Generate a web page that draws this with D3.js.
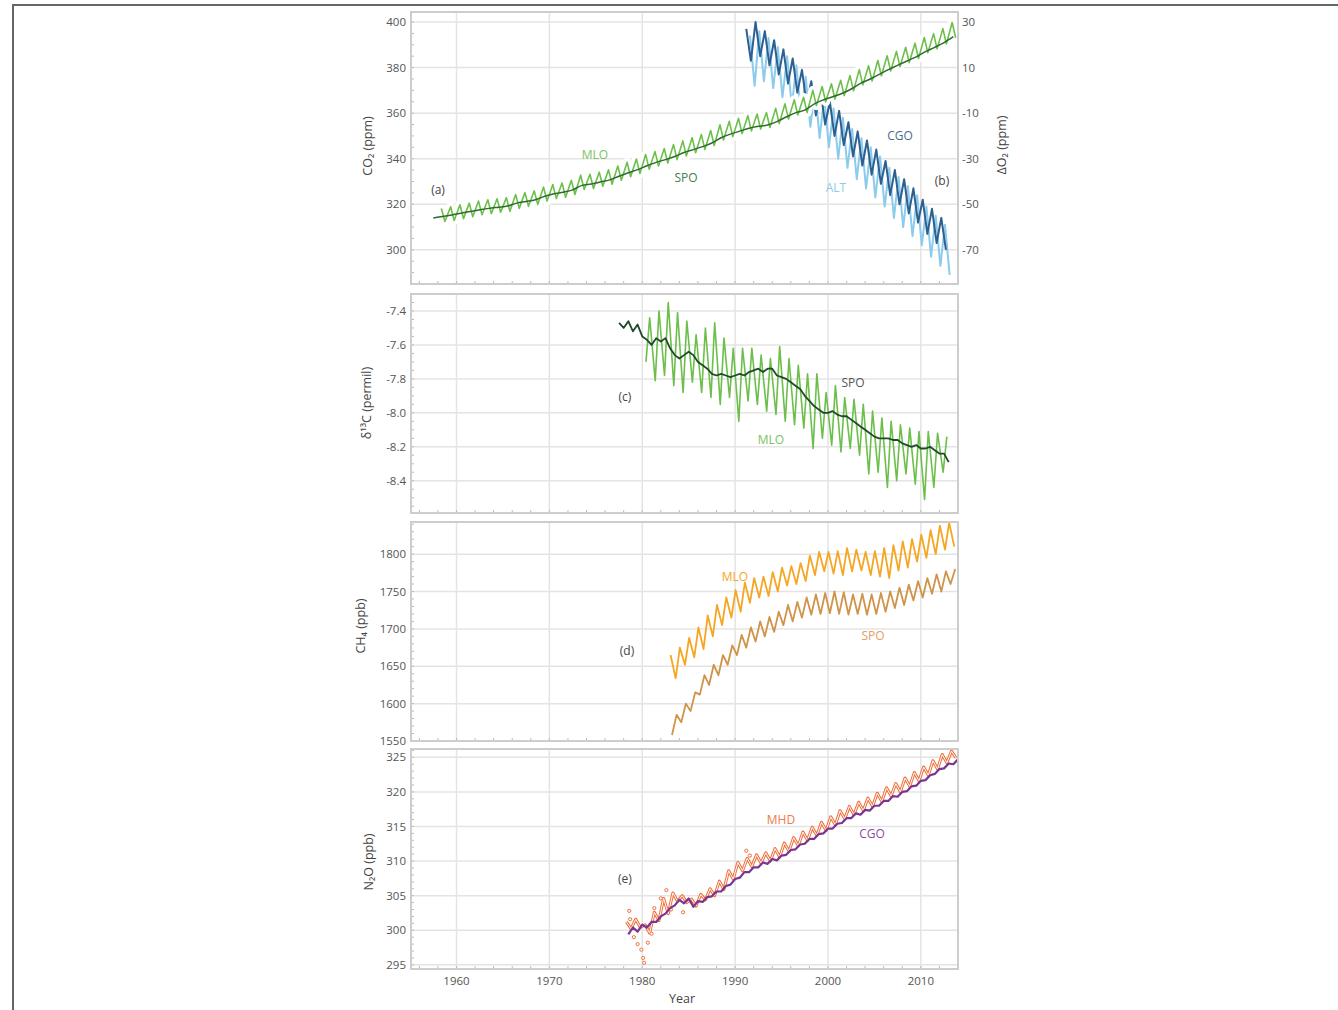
<!DOCTYPE html>
<html>
<head>
<meta charset="utf-8">
<script src="https://cdn.jsdelivr.net/npm/d3@7"></script>
<style>
body { margin: 0; background: #fff; }
text { font-family: "Open Sans", "Noto Sans", sans-serif; }
</style>
</head>
<body>
<svg id="chart" width="1338" height="1010"></svg>
<script>
/* four stacked panels: CO2 + O2, d13C, CH4, N2O at baseline stations */

// ---- data ----
var yearTicks = [1960, 1970, 1980, 1990, 2000, 2010];
var co2Ticks = [300, 320, 340, 360, 380, 400];
var o2Ticks = [-70, -50, -30, -10, 10, 30];
var d13cTicks = [-8.4, -8.2, -8.0, -7.8, -7.6, -7.4];
var ch4Ticks = [1550, 1600, 1650, 1700, 1750, 1800];
var n2oTicks = [295, 300, 305, 310, 315, 320, 325];

// CO2 Mauna Loa, 1958-2013, seasonal max (May) and min (Sep/Oct)
var mloCo2Hi = [318.2, 318.9, 319.8, 320.5, 321.4, 322.0, 322.4, 322.9, 324.3, 325.1, 325.9, 327.6, 328.7, 329.3, 330.5, 332.8,
  333.2, 334.1, 335.1, 336.8, 338.4, 339.9, 341.8, 343.2, 344.5, 346.2, 347.8, 349.2, 350.6, 352.4, 354.9, 356.4, 357.7,
  358.9, 359.6, 360.3, 362.1, 364.1, 365.9, 367.0, 370.0, 371.7, 372.9, 374.4, 376.5, 379.1, 380.8, 383.1, 385.2, 387.1,
  388.9, 390.7, 393.2, 394.9, 397.1, 399.8];
var mloCo2Lo = [312.4, 312.9, 313.7, 314.5, 315.4, 315.9, 316.5, 316.9, 318.2, 319.1, 319.9, 321.4, 322.5, 323.1, 324.3, 326.5,
  326.9, 327.9, 328.8, 330.5, 332.1, 333.5, 335.4, 336.8, 338.1, 339.6, 341.2, 342.6, 344.0, 345.8, 348.2, 349.7, 351.0,
  352.2, 353.0, 353.7, 355.4, 357.4, 359.2, 360.3, 363.3, 365.0, 366.2, 367.7, 369.8, 372.4, 374.1, 376.4, 378.5, 380.4,
  382.2, 384.0, 386.5, 388.2, 390.4, 393.1];
// CO2 South Pole, annual, 1957-2013
var spoCo2 = [314.0, 314.6, 315.3, 316.1, 316.8, 317.6, 318.2, 318.7, 319.2, 320.5, 321.2, 322.0, 323.5, 324.6, 325.3, 326.3,
  328.3, 328.9, 329.8, 330.7, 332.3, 333.8, 335.2, 336.9, 338.4, 339.6, 341.0, 342.7, 344.0, 345.3, 346.9, 349.2, 350.8,
  352.1, 353.4, 354.2, 354.8, 356.3, 358.3, 360.1, 361.3, 364.0, 365.8, 367.2, 368.6, 370.6, 373.1, 374.9, 377.0, 379.1,
  381.0, 382.9, 384.7, 387.0, 388.9, 391.0, 393.6];
// delta O2 (ppm, right axis) 1991-2012
var cgoO2Hi = [27, 30, 26, 22, 18, 14, 9, 4, 0, -5, -9, -14, -18, -22, -26, -31, -35, -39, -43, -48, -52, -56];
var cgoO2Lo = [13, 15, 11, 7, 3, -1, -6, -11, -15, -20, -24, -29, -33, -37, -41, -46, -50, -54, -58, -63, -67, -70];
var altO2Hi = [24, 26, 23, 19, 15, 11, 6, 1, -3, -8, -12, -17, -21, -25, -29, -34, -38, -42, -46, -51, -55, -59];
var altO2Lo = [2, 4, 1, -3, -7, -11, -16, -21, -25, -30, -34, -39, -43, -47, -51, -56, -60, -64, -68, -73, -77, -81];

// d13C South Pole, half-yearly from 1977.5
var spoD13c = [-7.47, -7.50, -7.46, -7.52, -7.48, -7.55, -7.57, -7.60, -7.56, -7.58, -7.56, -7.62, -7.66, -7.68, -7.66,
  -7.64, -7.66, -7.70, -7.72, -7.74, -7.77, -7.78, -7.77, -7.78, -7.79, -7.78, -7.77, -7.78, -7.76, -7.75, -7.74, -7.76,
  -7.74, -7.74, -7.78, -7.79, -7.80, -7.82, -7.84, -7.86, -7.90, -7.93, -7.96, -7.98, -8.00, -8.00, -7.99, -8.01, -8.02,
  -8.02, -8.04, -8.06, -8.08, -8.10, -8.12, -8.14, -8.15, -8.15, -8.15, -8.16, -8.16, -8.18, -8.19, -8.20, -8.19, -8.21,
  -8.21, -8.20, -8.22, -8.24, -8.24, -8.29];
// d13C Mauna Loa 1980-2012, seasonal max / min
var mloD13cHi = [-7.44, -7.40, -7.35, -7.41, -7.46, -7.54, -7.50, -7.47, -7.56, -7.62, -7.62, -7.62, -7.66, -7.68, -7.61,
  -7.68, -7.72, -7.77, -7.77, -7.88, -7.84, -7.91, -7.92, -7.95, -7.99, -8.03, -8.05, -8.07, -8.09, -8.11, -8.11, -8.12, -8.14];
var mloD13cLo = [-7.70, -7.81, -7.78, -7.84, -7.88, -7.82, -7.88, -7.91, -7.95, -7.91, -8.05, -7.93, -7.95, -7.99, -8.01,
  -8.05, -8.07, -8.09, -8.21, -8.15, -8.19, -8.23, -8.21, -8.25, -8.36, -8.35, -8.44, -8.40, -8.36, -8.42, -8.51, -8.44, -8.35];

// CH4 1983-2013
var mloCh4Hi = [1665, 1675, 1688, 1702, 1718, 1732, 1742, 1752, 1762, 1768, 1770, 1776, 1782, 1784, 1788, 1798, 1803, 1803,
  1804, 1808, 1806, 1803, 1804, 1808, 1812, 1817, 1820, 1826, 1832, 1838, 1842];
var mloCh4Lo = [1634, 1652, 1662, 1673, 1690, 1705, 1715, 1723, 1735, 1742, 1744, 1750, 1758, 1760, 1764, 1772, 1777, 1774,
  1772, 1777, 1778, 1772, 1770, 1768, 1778, 1782, 1790, 1795, 1800, 1806, 1810];
var spoCh4Hi = [1585, 1600, 1615, 1638, 1652, 1665, 1678, 1692, 1702, 1710, 1716, 1723, 1732, 1736, 1742, 1746, 1748, 1750,
  1749, 1746, 1747, 1746, 1748, 1750, 1755, 1759, 1764, 1768, 1773, 1777, 1780];
var spoCh4Lo = [1558, 1575, 1590, 1612, 1625, 1638, 1652, 1665, 1675, 1683, 1690, 1696, 1705, 1710, 1715, 1719, 1720, 1721,
  1720, 1719, 1720, 1719, 1720, 1723, 1728, 1732, 1738, 1742, 1747, 1750, 1760];

// N2O 1978-2013
var mhdN2oHi = [301.2, 301.6, 300.8, 302.6, 304.6, 305.4, 305.0, 304.5, 305.2, 306.0, 307.1, 308.6, 309.8, 310.4, 310.9,
  311.2, 311.8, 312.6, 313.4, 314.2, 314.9, 315.6, 316.4, 317.3, 317.9, 318.5, 319.1, 319.8, 320.6, 321.2, 322.0, 322.8,
  323.6, 324.5, 325.4, 325.9];
var mhdN2oLo = [300.2, 300.4, 299.6, 301.4, 302.4, 304.2, 304.0, 303.5, 304.4, 305.0, 305.9, 307.4, 308.6, 309.2, 309.7,
  310.0, 310.6, 311.4, 312.2, 313.0, 313.7, 314.4, 315.2, 316.1, 316.7, 317.3, 317.9, 318.6, 319.4, 320.0, 320.8, 321.6,
  322.4, 323.3, 324.2, 324.9];
var cgoN2oHi = [300.4, 300.8, 301.2, 302.0, 303.2, 304.4, 304.6, 304.2, 304.8, 305.6, 306.4, 307.4, 308.4, 309.1, 309.8,
  310.3, 310.8, 311.6, 312.4, 313.2, 313.9, 314.7, 315.4, 316.2, 316.9, 317.4, 318.0, 318.7, 319.4, 320.0, 320.8, 321.6,
  322.4, 323.3, 324.1, 324.7];
var cgoN2oLo = [299.4, 299.8, 300.4, 301.2, 302.4, 303.6, 303.9, 303.4, 304.1, 304.9, 305.6, 306.6, 307.6, 308.4, 309.1,
  309.6, 310.1, 310.9, 311.7, 312.5, 313.2, 314.0, 314.7, 315.5, 316.2, 316.7, 317.3, 318.0, 318.7, 319.3, 320.1, 320.9,
  321.7, 322.6, 323.4, 324.0];
// scattered early flask values at MHD
var mhdEarly = [[1978.6, 302.8], [1978.7, 301.6], [1979.1, 299.0], [1979.5, 298.0], [1979.9, 297.2], [1980.1, 296.0],
  [1980.2, 295.3], [1980.6, 298.2], [1981.0, 299.5], [1981.3, 303.2], [1982.0, 304.6], [1982.6, 305.8], [1983.1, 303.0],
  [1984.4, 302.6], [1991.2, 311.5], [1991.6, 310.8]];

// ---- helpers ----
function zig(start, hi, hiPh, lo, loPh) {
    var pts = [];
    hi.forEach(function (v, i) { pts.push([start + i + hiPh, v]); });
    lo.forEach(function (v, i) { pts.push([start + i + loPh, v]); });
    pts.sort(function (a, b) { return a[0] - b[0]; });
    return pts;
}
function series(start, step, vals) {
    return vals.map(function (v, i) { return [start + i * step, v]; });
}

var svg = d3.select("#chart");
var x = d3.scaleLinear().domain([1955.1, 2014]).range([411, 958]);
var X0 = 411, X1 = 958;

// outer border
svg.append("path").attr("d", "M13,1010V5H1338").attr("fill", "none")
    .attr("stroke", "#666").attr("stroke-width", 2);

var fmtInt = function (d) { return String(d); };
var fmt1 = function (d) { return d.toFixed(1); };

function addPanel(p) {
    var y = d3.scaleLinear().domain(p.domain).range([p.bottom, p.top]);
    var g = svg.append("g");
    g.append("rect").attr("x", X0).attr("y", p.top).attr("width", X1 - X0).attr("height", p.bottom - p.top)
        .attr("fill", "#fff");
    g.selectAll(".vg").data(yearTicks).enter().append("line")
        .attr("x1", function (d) { return x(d); }).attr("x2", function (d) { return x(d); })
        .attr("y1", p.top).attr("y2", p.bottom)
        .attr("stroke", "#e4e4e4").attr("stroke-width", 1.5);
    g.selectAll(".hg").data(p.ticks).enter().append("line")
        .attr("x1", X0).attr("x2", X1)
        .attr("y1", function (d) { return y(d); }).attr("y2", function (d) { return y(d); })
        .attr("stroke", "#e4e4e4").attr("stroke-width", 1.5);
    // minor ticks
    var lo = Math.ceil(p.domain[0] / p.minor), hi = Math.floor(p.domain[1] / p.minor);
    var minors = d3.range(lo, hi + 1).map(function (k) { return k * p.minor; });
    g.selectAll(".ym").data(minors).enter().append("line")
        .attr("x1", X0).attr("x2", X0 + 3)
        .attr("y1", function (d) { return y(d); }).attr("y2", function (d) { return y(d); })
        .attr("stroke", "#bbb").attr("stroke-width", 1);
    g.selectAll(".xm").data(d3.range(1956, 2014, 2)).enter().append("line")
        .attr("x1", function (d) { return x(d); }).attr("x2", function (d) { return x(d); })
        .attr("y1", p.bottom).attr("y2", p.bottom - 3)
        .attr("stroke", "#bbb").attr("stroke-width", 1);
    g.selectAll(".yl").data(p.ticks).enter().append("text")
        .attr("x", 406).attr("y", function (d) { return y(d); })
        .attr("dy", "0.35em").attr("text-anchor", "end")
        .attr("font-size", 11.5).attr("fill", "#555")
        .text(p.fmt);
    g.append("text")
        .attr("transform", "translate(" + p.tx + "," + p.ty + ") rotate(-90)")
        .attr("text-anchor", "middle").attr("dy", "0.35em")
        .attr("font-size", 12.5).attr("fill", "#444")
        .text(p.title);
    svg.append("clipPath").attr("id", "clip-" + p.id).append("rect")
        .attr("x", X0).attr("y", p.top).attr("width", X1 - X0).attr("height", p.bottom - p.top);
    var data = svg.append("g").attr("clip-path", "url(#clip-" + p.id + ")");
    return { y: y, g: data, p: p };
}

function frame(p) {
    svg.append("rect").attr("x", X0).attr("y", p.top).attr("width", X1 - X0).attr("height", p.bottom - p.top)
        .attr("fill", "none").attr("stroke", "#cdcdcd").attr("stroke-width", 2);
}

function draw(panel, pts, color, width, yScale, curve) {
    var ys = yScale || panel.y;
    var line = d3.line()
        .x(function (d) { return x(d[0]); })
        .y(function (d) { return ys(d[1]); })
        .curve(curve || d3.curveLinear);
    return panel.g.append("path").datum(pts).attr("d", line)
        .attr("fill", "none").attr("stroke", color).attr("stroke-width", width)
        .attr("stroke-linejoin", "round");
}

function label(txt, cx, cy, color) {
    svg.append("text").attr("x", cx).attr("y", cy).attr("dy", "0.35em")
        .attr("text-anchor", "middle").attr("font-size", 12).attr("fill", color).text(txt);
}

var pA = { id: "a", top: 12, bottom: 284, domain: [285, 404.4], ticks: co2Ticks, minor: 5, fmt: fmtInt,
    title: "CO\u2082 (ppm)", tx: 368, ty: 146 };
var pC = { id: "c", top: 294, bottom: 513, domain: [-8.59, -7.3], ticks: d13cTicks, minor: 0.05, fmt: fmt1,
    title: "\u03b4\u00b9\u00b3C (permil)", tx: 367, ty: 403 };
var pD = { id: "d", top: 522, bottom: 741, domain: [1550, 1843], ticks: ch4Ticks, minor: 10, fmt: fmtInt,
    title: "CH\u2084 (ppb)", tx: 361, ty: 626 };
var pE = { id: "e", top: 749, bottom: 969, domain: [294.4, 326.2], ticks: n2oTicks, minor: 1, fmt: fmtInt,
    title: "N\u2082O (ppb)", tx: 369, ty: 862 };

// ---- panel a/b ----
var a = addPanel(pA);
var yO2 = d3.scaleLinear().domain([-85, 34.4]).range([pA.bottom, pA.top]);
svg.selectAll(".o2l").data(o2Ticks).enter().append("text")
    .attr("x", 962).attr("y", function (d) { return yO2(d); }).attr("dy", "0.35em")
    .attr("font-size", 11.5).attr("fill", "#555").text(fmtInt);
svg.append("text").attr("transform", "translate(1002,145) rotate(-90)")
    .attr("text-anchor", "middle").attr("dy", "0.35em").attr("font-size", 12.5).attr("fill", "#444")
    .text("\u0394O\u2082 (ppm)");
draw(a, zig(1991, altO2Hi, 0.6, altO2Lo, 1.1), "#8ccbec", 2, yO2);
draw(a, zig(1991, cgoO2Hi, 0.2, cgoO2Lo, 0.7), "#2d5f91", 2, yO2);
var mloPts = zig(1958, mloCo2Hi, 0.37, mloCo2Lo, 0.75);
draw(a, mloPts, "#fff", 9);
draw(a, mloPts, "#6cc04a", 1.6);
draw(a, series(1957.5, 1, spoCo2), "#2f6b2f", 1.5, null, d3.curveMonotoneX);
frame(pA);
label("MLO", 595, 155, "#7cc360");
label("SPO", 686, 178, "#3f7d52");
label("CGO", 900, 136, "#4a6a90");
label("ALT", 836, 188, "#8ecbe8");
label("(a)", 438, 190, "#444");
label("(b)", 942, 181, "#444");

// ---- panel c ----
var c = addPanel(pC);
draw(c, zig(1980, mloD13cHi, 0.8, mloD13cLo, 0.4), "#6cbf4b", 1.6);
draw(c, series(1977.5, 0.5, spoD13c), "#1f4a2a", 1.8);
frame(pC);
label("SPO", 853, 383, "#555");
label("MLO", 771, 440, "#7cc360");
label("(c)", 625, 397, "#444");

// ---- panel d ----
var dP = addPanel(pD);
draw(dP, zig(1983, spoCh4Hi, 0.7, spoCh4Lo, 0.2), "#cf9448", 1.8);
draw(dP, zig(1983, mloCh4Hi, 0.05, mloCh4Lo, 0.6), "#f5a623", 1.8);
frame(pD);
label("MLO", 735, 577, "#f5a623");
label("SPO", 873, 636, "#e0a060");
label("(d)", 627, 651, "#444");

// ---- panel e ----
var e = addPanel(pE);
var mhdPts = zig(1978, mhdN2oHi, 0.3, mhdN2oLo, 0.8);
draw(e, mhdPts, "#f0703c", 3);
draw(e, mhdPts, "#fff", 1);
e.g.selectAll(".early").data(mhdEarly).enter().append("circle")
    .attr("cx", function (d) { return x(d[0]); }).attr("cy", function (d) { return e.y(d[1]); })
    .attr("r", 1.6).attr("fill", "#fff").attr("stroke", "#f0703c").attr("stroke-width", 1);
draw(e, zig(1978.3, cgoN2oHi, 0.7, cgoN2oLo, 0.2), "#7a3591", 2.2);
frame(pE);
label("MHD", 781, 820, "#f07a4a");
label("CGO", 872, 834, "#8e4aa0");
label("(e)", 625, 879, "#444");

// x axis labels (bottom panel only)
svg.selectAll(".xl").data(yearTicks).enter().append("text")
    .attr("x", function (d) { return x(d); }).attr("y", 981).attr("dy", "0.35em")
    .attr("text-anchor", "middle").attr("font-size", 11.5).attr("fill", "#555").text(fmtInt);
svg.append("text").attr("x", 682).attr("y", 999).attr("dy", "0.35em")
    .attr("text-anchor", "middle").attr("font-size", 12.5).attr("fill", "#444").text("Year");
</script>
</body>
</html>
